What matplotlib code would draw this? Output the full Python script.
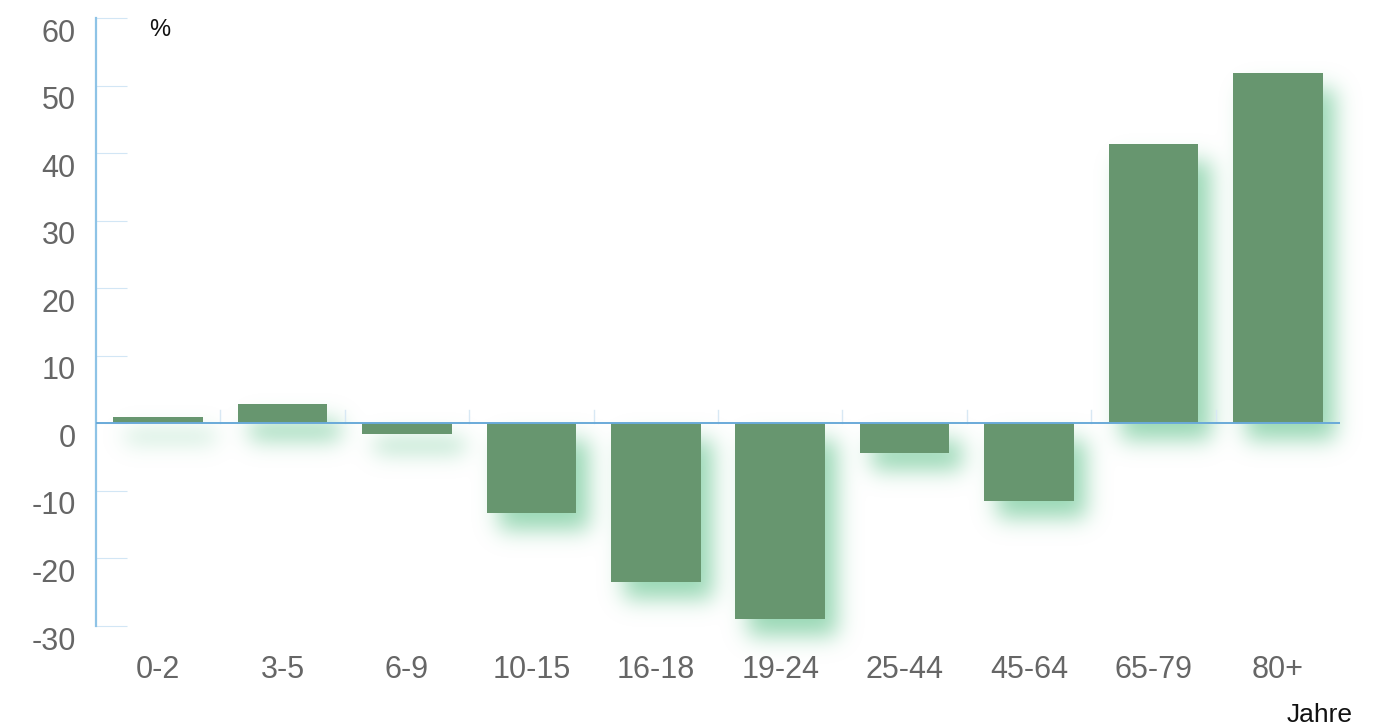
import numpy as np
import matplotlib
matplotlib.use("Agg")
import matplotlib.pyplot as plt
import matplotlib.transforms as mtransforms

# data
categories = ["0-2", "3-5", "6-9", "10-15", "16-18", "19-24", "25-44", "45-64", "65-79", "80+"]
values = [1.0, 2.8, -1.6, -13.3, -23.5, -29.0, -4.4, -11.5, 41.3, 51.9]
yticks = [-30, -20, -10, 0, 10, 20, 30, 40, 50, 60]

W, H = 1386, 726
plt.rcParams['font.family'] = ['Liberation Sans', 'DejaVu Sans']

fig = plt.figure(figsize=(W / 100, H / 100), dpi=100)
ax = fig.add_axes([96 / W, 1 - 626 / H, (1340 - 96) / W, (626 - 18) / H])
ax.set_facecolor('none')
ax.set_xlim(-0.5, len(categories) - 0.5)
ax.set_ylim(-30, 60)

x = np.arange(len(categories))
bar_w = 0.72
bars = ax.bar(x, values, width=bar_w, color='#67966f', zorder=3)

# soft green shadow behind the bars, built in pixel space
fig.canvas.draw()
mask = np.zeros((H, W))
for b in bars:
    (x0, y0), (x1, y1) = ax.transData.transform([(b.get_x(), b.get_y()),
                                                 (b.get_x() + b.get_width(), b.get_y() + b.get_height())])
    xa, xb = sorted([x0, x1])
    ya, yb = sorted([y0, y1])
    xa, xb = int(xa + 13), int(xb + 13)
    ya, yb = int(ya - 16), int(yb - 16)
    mask[max(ya, 0):yb, max(xa, 0):xb] = 1.0

def blur(a, sigma):
    r = int(3 * sigma)
    k = np.exp(-0.5 * (np.arange(-r, r + 1) / sigma) ** 2)
    k /= k.sum()
    a = np.apply_along_axis(lambda v: np.convolve(v, k, mode='same'), 0, a)
    a = np.apply_along_axis(lambda v: np.convolve(v, k, mode='same'), 1, a)
    return a

shadow = blur(mask, 11.0)
rgba = np.zeros((H, W, 4))
rgba[..., 0] = 0.60
rgba[..., 1] = 0.85
rgba[..., 2] = 0.71
rgba[..., 3] = np.clip(shadow * 1.0, 0, 1)
bg = fig.add_axes([0, 0, 1, 1], zorder=-1)
bg.imshow(rgba, extent=(0, W, 0, H), origin='lower', aspect='auto')
bg.set_xlim(0, W)
bg.set_ylim(0, H)
bg.axis('off')

# axes styling
for s in ['top', 'right', 'bottom']:
    ax.spines[s].set_visible(False)
ax.spines['left'].set_color('#8ec3e6')
ax.spines['left'].set_linewidth(1.6)
ax.axhline(0, color='#6aaad9', lw=1.4, zorder=4)

ax.set_yticks(yticks)
ax.set_yticklabels([str(t) for t in yticks])
ax.tick_params(axis='y', direction='in', length=22, width=0.8, color='#d2e6f5',
               labelsize=22, labelcolor='#666666', pad=14.5)
shift = mtransforms.ScaledTranslation(0, -12 / 100, fig.dpi_scale_trans)
for lab in ax.get_yticklabels():
    lab.set_transform(lab.get_transform() + shift)

ax.set_xticks(x)
ax.set_xticklabels(categories)
ax.tick_params(axis='x', length=0, labelsize=22, labelcolor='#666666', pad=21)

# small separators on the zero line between categories
for xs in np.arange(0.5, len(categories), 1.0):
    ax.plot([xs, xs], [0, 2.0], color='#d8e8f4', lw=1.0, zorder=2)

fig.text(160 / W, 1 - 30 / H, '%', fontsize=17, color='#111111', ha='center', va='center')
fig.text(1320 / W, 1 - 715 / H, 'Jahre', fontsize=19, color='#111111', ha='center', va='center')

fig.savefig('out.png', dpi=100, facecolor='white')
